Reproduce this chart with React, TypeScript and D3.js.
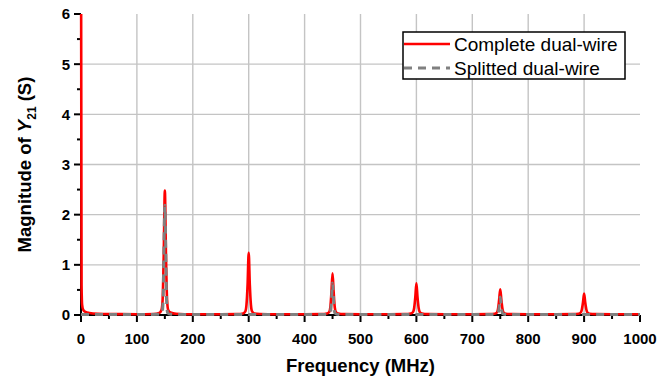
import React from "react";
import * as d3 from "d3";

const xTicks = [0, 100, 200, 300, 400, 500, 600, 700, 800, 900, 1000];
const xMinorTicks = [50, 150, 250, 350, 450, 550, 650, 750, 850, 950];
const yTicks = [0, 1, 2, 3, 4, 5, 6];
const yMinorTicks = [0.5, 1.5, 2.5, 3.5, 4.5, 5.5];

const completeFreq = [0, 1, 2, 4, 8, 15, 30, 60, 100, 130, 140, 144, 146, 148, 150, 152, 154, 156, 160, 170, 200, 250, 280, 290, 294, 296, 298, 300, 302, 304, 306, 310, 320, 350, 400, 430, 440, 444, 446, 448, 450, 452, 454, 456, 460, 470, 500, 550, 580, 590, 594, 596, 598, 600, 602, 604, 606, 610, 620, 650, 700, 730, 740, 744, 746, 748, 750, 752, 754, 756, 760, 770, 800, 850, 880, 890, 894, 896, 898, 900, 902, 904, 906, 910, 920, 950, 1000];
const completeMag = [8, 0.6, 0.2, 0.1, 0.06, 0.04, 0.025, 0.018, 0.015, 0.02, 0.04, 0.1, 0.3, 1.2, 2.48, 1.2, 0.3, 0.1, 0.05, 0.025, 0.015, 0.015, 0.018, 0.03, 0.07, 0.2, 0.6, 1.24, 0.6, 0.2, 0.07, 0.03, 0.02, 0.015, 0.015, 0.018, 0.03, 0.06, 0.15, 0.45, 0.83, 0.45, 0.15, 0.06, 0.03, 0.018, 0.015, 0.015, 0.018, 0.03, 0.06, 0.14, 0.35, 0.63, 0.35, 0.14, 0.06, 0.03, 0.018, 0.015, 0.015, 0.018, 0.025, 0.05, 0.12, 0.3, 0.51, 0.3, 0.12, 0.05, 0.025, 0.018, 0.015, 0.015, 0.018, 0.025, 0.05, 0.11, 0.25, 0.43, 0.25, 0.11, 0.05, 0.025, 0.018, 0.015, 0.015];

const splittedFreq = [0, 100, 140, 145, 147, 148, 150, 152, 153, 155, 160, 200, 440, 446, 448, 450, 452, 454, 460, 500, 740, 746, 748, 750, 752, 754, 760, 800, 1000];
const splittedMag = [0.01, 0.01, 0.015, 0.04, 0.3, 1.0, 2.19, 1.0, 0.3, 0.04, 0.015, 0.01, 0.01, 0.04, 0.25, 0.64, 0.25, 0.04, 0.01, 0.01, 0.01, 0.03, 0.15, 0.36, 0.15, 0.03, 0.01, 0.01, 0.01];

const seriesNames = ["Complete dual-wire", "Splitted dual-wire"];

const W = 672;
const H = 382;
const left = 81;
const right = 640;
const top = 14;
const bottom = 315;

export default function App() {
  const x = d3.scaleLinear().domain([0, 1000]).range([left, right]);
  const y = d3.scaleLinear().domain([0, 6]).range([bottom, top]);

  const completeData = completeFreq.map((f, i) => [f, completeMag[i]] as [number, number]);
  const splittedData = splittedFreq.map((f, i) => [f, splittedMag[i]] as [number, number]);

  const line = d3
    .line<[number, number]>()
    .x((d) => x(d[0]))
    .y((d) => y(d[1]))
    .curve(d3.curveMonotoneX);

  const font = "'Liberation Sans', Arial, sans-serif";

  return (
    <svg
      width={W}
      height={H}
      style={{ position: "absolute", left: 0, top: 0, background: "#fff" }}
      fontFamily={font}
    >
      <defs>
        <clipPath id="plotClip">
          <rect x={left - 2} y={top} width={right - left + 4} height={bottom - top + 4} />
        </clipPath>
      </defs>
      <rect x={0} y={0} width={W} height={H} fill="#fff" />
      {/* grid */}
      {xTicks
        .filter((t) => t > 0 && t < 1000)
        .map((t) => (
          <line key={"gx" + t} x1={x(t)} x2={x(t)} y1={top} y2={bottom} stroke="#c4c4c4" strokeWidth={1.4} />
        ))}
      {yTicks
        .filter((t) => t > 0 && t < 6)
        .map((t) => (
          <line key={"gy" + t} x1={left} x2={right} y1={y(t)} y2={y(t)} stroke="#c4c4c4" strokeWidth={1.4} />
        ))}
      {/* axes */}
      <line x1={left} x2={left} y1={top} y2={bottom} stroke="#000" strokeWidth={2} />
      <line x1={left} x2={right} y1={bottom} y2={bottom} stroke="#000" strokeWidth={2} />
      {yTicks.map((t) => (
        <g key={"yt" + t}>
          <line x1={left - 7} x2={left} y1={y(t)} y2={y(t)} stroke="#000" strokeWidth={2} />
          <text x={left - 11} y={y(t)} dy="0.36em" textAnchor="end" fontSize={15} fontWeight="bold">
            {t}
          </text>
        </g>
      ))}
      {yMinorTicks.map((t) => (
        <line key={"ym" + t} x1={left - 4} x2={left} y1={y(t)} y2={y(t)} stroke="#000" strokeWidth={2} />
      ))}
      {xTicks.map((t) => (
        <g key={"xt" + t}>
          <line x1={x(t)} x2={x(t)} y1={bottom} y2={bottom + 7} stroke="#000" strokeWidth={2} />
          <text x={x(t)} y={bottom + 29} textAnchor="middle" fontSize={15} fontWeight="bold">
            {t}
          </text>
        </g>
      ))}
      {xMinorTicks.map((t) => (
        <line key={"xm" + t} x1={x(t)} x2={x(t)} y1={bottom} y2={bottom + 4} stroke="#000" strokeWidth={2} />
      ))}
      {/* series */}
      <g clipPath="url(#plotClip)">
        <path d={line(completeData) || ""} fill="none" stroke="#ff0000" strokeWidth={2.6} strokeLinejoin="round" />
        <path
          d={line(splittedData) || ""}
          fill="none"
          stroke="#808080"
          strokeWidth={3}
          strokeDasharray="8,6"
        />
      </g>
      {/* axis titles */}
      <text x={(left + right) / 2} y={372} textAnchor="middle" fontSize={18.5} fontWeight="bold">
        Frequency (MHz)
      </text>
      <text
        transform={`translate(31, ${(top + bottom) / 2}) rotate(-90)`}
        textAnchor="middle"
        fontSize={18.5}
        fontWeight="bold"
      >
        Magnitude of <tspan fontStyle="italic">Y</tspan>
        <tspan fontSize={12} dy={5}>21</tspan>
        <tspan dy={-5}> (S)</tspan>
      </text>
      {/* legend */}
      <rect x={403} y={32} width={222} height={47} fill="#fff" stroke="#000" strokeWidth={1.5} />
      <line x1={404} x2={450} y1={44} y2={44} stroke="#ff0000" strokeWidth={2.6} />
      <line x1={404} x2={450} y1={68} y2={68} stroke="#808080" strokeWidth={3} strokeDasharray="8,6" />
      <text x={454} y={44} dy="0.36em" fontSize={19}>
        {seriesNames[0]}
      </text>
      <text x={454} y={68} dy="0.36em" fontSize={19}>
        {seriesNames[1]}
      </text>
    </svg>
  );
}
